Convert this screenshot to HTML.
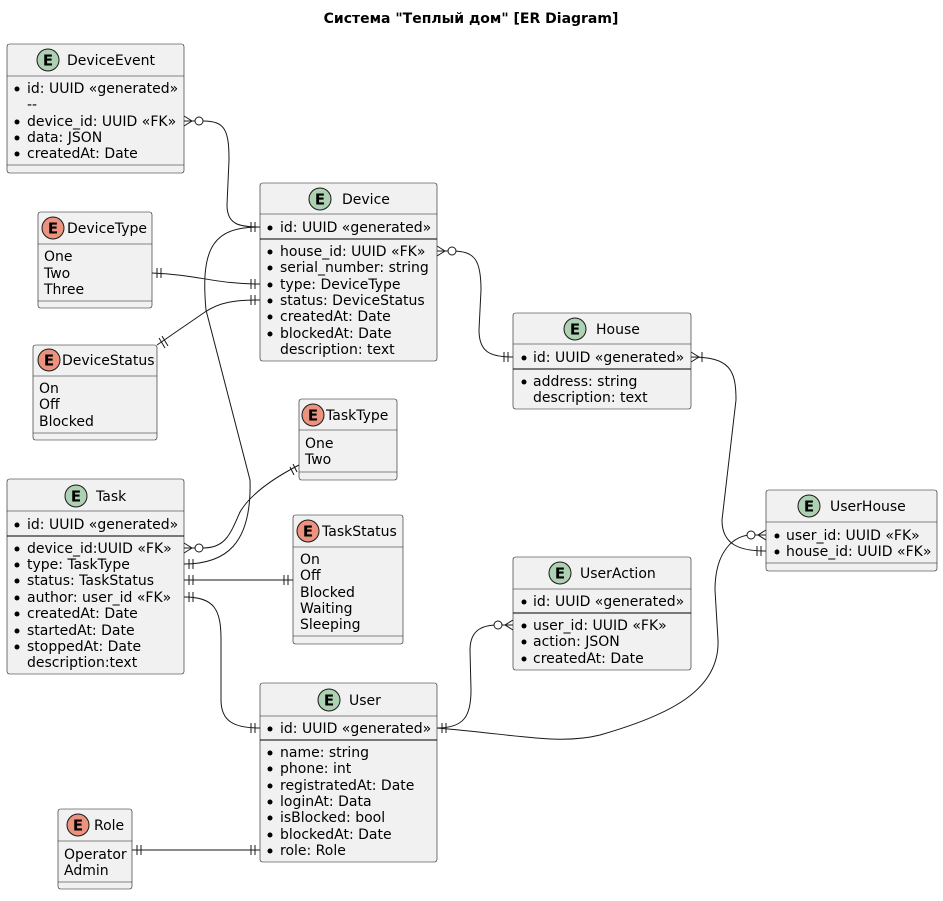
<!DOCTYPE html>
<html><head><meta charset="utf-8"><style>
html,body{margin:0;padding:0;background:#fff}
svg text{font-family:"DejaVu Sans","Liberation Sans",sans-serif;font-size:14px;fill:#000}
.b{fill:#F1F1F1;stroke:#181818;stroke-width:0.6}
.d{stroke:#181818;stroke-width:0.6}
.s{stroke:#000;stroke-width:1.1}
.c{fill:none;stroke:#181818;stroke-width:1}
.ce{fill:#ADD1B2;stroke:#181818;stroke-width:1}
.cn{fill:#EB937F;stroke:#181818;stroke-width:1}
.E{font-weight:bold;font-size:15px !important}
</style></head><body>
<svg width="943" height="896" viewBox="0 0 943 896" xmlns="http://www.w3.org/2000/svg">
<text x="471" y="23" text-anchor="middle" style="font-weight:bold;font-size:14px">Система "Теплый дом" [ER Diagram]</text>

<!-- connectors -->
<g class="c">
<path d="M203,121 C225,121 229,130 229,160 L227,205 C227,225 240,227 260,227"/>
<path d="M152,273 C200,275 215,284 260,284"/>
<path d="M157,345 L205,312 C220,302 235,300 260,300"/>
<path d="M260,227 C215,227 200,245 206,310 L250,480 C252,545 225,564 184,564"/>
<path d="M203,548 C225,548 230,535 240,512 C250,495 270,480 299,465"/>
<path d="M184,580 L293,580"/>
<path d="M184,597 C215,597 221,610 221,640 L221,700 C221,722 235,728 260,728"/>
<path d="M132,850 L260,850"/>
<path d="M452,251 C475,251 481,260 481,290 L479,330 C479,352 490,357 513,357"/>
<path d="M691,357 C730,357 736,370 736,400 L722,520 C722,545 740,551 766,551"/>
<path d="M437,728 C465,728 471,715 471,690 L470,650 C470,628 485,625 498,625"/>
<path d="M437,728 C520,735 560,745 600,735 C670,715 720,690 718,640 L715,590 C715,550 735,535 751,535"/>
</g>
<!-- markers -->
<g class="c">
<!-- crowfoot + o -->
<path d="M184,116 L192,121 L184,126 M184,121 L195,121"/><circle cx="199" cy="121" r="4" fill="#fff"/>
<path d="M437,246 L445,251 L437,256 M437,251 L448,251"/><circle cx="452" cy="251" r="4" fill="#fff"/>
<path d="M184,543 L192,548 L184,553 M184,548 L195,548"/><circle cx="199" cy="548" r="4" fill="#fff"/>
<path d="M513,620 L505,625 L513,630 M513,625 L502,625"/><circle cx="498" cy="625" r="4" fill="#fff"/>
<path d="M766,530 L758,535 L766,540 M766,535 L755,535"/><circle cx="751" cy="535" r="4" fill="#fff"/>
<!-- one or many -->
<path d="M691,352 L699,357 L691,362 M702,352 L702,362"/>
<!-- || -->
<path d="M251,222 V232 M255,222 V232"/>
<path d="M251,279 V289 M255,279 V289"/>
<path d="M251,295 V305 M255,295 V305"/>
<path d="M157,268 V278 M161,268 V278"/>
<path d="M159,338 L165,348 M162,336 L168,346"/>
<path d="M251,723 V733 M255,723 V733"/>
<path d="M251,845 V855 M255,845 V855"/>
<path d="M137,845 V855 M141,845 V855"/>
<path d="M504,352 V362 M508,352 V362"/>
<path d="M757,546 V556 M761,546 V556"/>
<path d="M442,723 V733 M446,723 V733"/>
<path d="M189,559 V569 M193,559 V569"/>
<path d="M189,575 V585 M193,575 V585"/>
<path d="M284,575 V585 M288,575 V585"/>
<path d="M189,592 V602 M193,592 V602"/>
<path d="M290,467 L294,475 M293,464 L297,472"/>
</g>

<!-- DeviceEvent -->
<rect class="b" x="7" y="44" width="177" height="129" rx="2.5"/>
<line class="d" x1="7" y1="76" x2="184" y2="76"/><line class="d" x1="7" y1="165" x2="184" y2="165"/>
<circle class="ce" cx="48" cy="60" r="11"/><text class="E" x="48" y="65.5" text-anchor="middle">E</text>
<text x="67" y="65">DeviceEvent</text>
<g><circle cx="17" cy="89" r="2.5"/><text x="27" y="93">id: UUID «generated»</text>
<text x="27" y="109">--</text>
<circle cx="17" cy="122" r="2.5"/><text x="27" y="126">device_id: UUID «FK»</text>
<circle cx="17" cy="138" r="2.5"/><text x="27" y="142">data: JSON</text>
<circle cx="17" cy="154" r="2.5"/><text x="27" y="158">createdAt: Date</text></g>

<!-- Device -->
<rect class="b" x="260" y="183" width="177" height="178" rx="2.5"/>
<line class="d" x1="260" y1="214" x2="437" y2="214"/><line class="s" x1="260" y1="239" x2="437" y2="239"/>
<circle class="ce" cx="320" cy="199" r="11"/><text class="E" x="320" y="204.5" text-anchor="middle">E</text>
<text x="342" y="204">Device</text>
<circle cx="270" cy="228" r="2.5"/><text x="280" y="232">id: UUID «generated»</text>
<circle cx="270" cy="252" r="2.5"/><text x="280" y="256">house_id: UUID «FK»</text>
<circle cx="270" cy="268" r="2.5"/><text x="280" y="272">serial_number: string</text>
<circle cx="270" cy="285" r="2.5"/><text x="280" y="289">type: DeviceType</text>
<circle cx="270" cy="301" r="2.5"/><text x="280" y="305">status: DeviceStatus</text>
<circle cx="270" cy="317" r="2.5"/><text x="280" y="321">createdAt: Date</text>
<circle cx="270" cy="334" r="2.5"/><text x="280" y="338">blockedAt: Date</text>
<text x="280" y="354">description: text</text>

<!-- DeviceType -->
<rect class="b" x="38" y="212" width="114" height="96" rx="2.5"/>
<line class="d" x1="38" y1="244" x2="152" y2="244"/><line class="d" x1="38" y1="301" x2="152" y2="301"/>
<circle class="cn" cx="53" cy="228" r="11"/><text class="E" x="53" y="233.5" text-anchor="middle">E</text>
<text x="67" y="233">DeviceType</text>
<text x="44" y="261">One</text><text x="44" y="278">Two</text><text x="44" y="294">Three</text>

<!-- DeviceStatus -->
<rect class="b" x="33" y="345" width="124" height="95" rx="2.5"/>
<line class="d" x1="33" y1="376" x2="157" y2="376"/><line class="d" x1="33" y1="433" x2="157" y2="433"/>
<circle class="cn" cx="49" cy="360" r="11"/><text class="E" x="49" y="365.5" text-anchor="middle">E</text>
<text x="62" y="365">DeviceStatus</text>
<text x="39" y="393">On</text><text x="39" y="409">Off</text><text x="39" y="426">Blocked</text>

<!-- TaskType -->
<rect class="b" x="299" y="399" width="98" height="81" rx="2.5"/>
<line class="d" x1="299" y1="430" x2="397" y2="430"/><line class="d" x1="299" y1="472" x2="397" y2="472"/>
<circle class="cn" cx="313" cy="415" r="11"/><text class="E" x="313" y="420.5" text-anchor="middle">E</text>
<text x="326" y="420">TaskType</text>
<text x="305" y="448">One</text><text x="305" y="464">Two</text>

<!-- Task -->
<rect class="b" x="7" y="479" width="177" height="195" rx="2.5"/>
<line class="d" x1="7" y1="511" x2="184" y2="511"/><line class="s" x1="7" y1="536" x2="184" y2="536"/>
<circle class="ce" cx="76" cy="496" r="11"/><text class="E" x="76" y="501.5" text-anchor="middle">E</text>
<text x="96" y="501">Task</text>
<circle cx="17" cy="525" r="2.5"/><text x="27" y="529">id: UUID «generated»</text>
<circle cx="17" cy="549" r="2.5"/><text x="27" y="553">device_id:UUID «FK»</text>
<circle cx="17" cy="565" r="2.5"/><text x="27" y="569">type: TaskType</text>
<circle cx="17" cy="581" r="2.5"/><text x="27" y="585">status: TaskStatus</text>
<circle cx="17" cy="598" r="2.5"/><text x="27" y="602">author: user_id «FK»</text>
<circle cx="17" cy="614" r="2.5"/><text x="27" y="618">createdAt: Date</text>
<circle cx="17" cy="631" r="2.5"/><text x="27" y="635">startedAt: Date</text>
<circle cx="17" cy="647" r="2.5"/><text x="27" y="651">stoppedAt: Date</text>
<text x="27" y="667">description:text</text>

<!-- TaskStatus -->
<rect class="b" x="293" y="515" width="110" height="129" rx="2.5"/>
<line class="d" x1="293" y1="547" x2="403" y2="547"/><line class="d" x1="293" y1="636" x2="403" y2="636"/>
<circle class="cn" cx="308" cy="531" r="11"/><text class="E" x="308" y="536.5" text-anchor="middle">E</text>
<text x="322" y="536">TaskStatus</text>
<text x="300" y="564">On</text><text x="300" y="580">Off</text><text x="300" y="597">Blocked</text><text x="300" y="613">Waiting</text><text x="300" y="629">Sleeping</text>

<!-- User -->
<rect class="b" x="260" y="683" width="177" height="179" rx="2.5"/>
<line class="d" x1="260" y1="716" x2="437" y2="716"/><line class="s" x1="260" y1="740" x2="437" y2="740"/>
<circle class="ce" cx="329" cy="700" r="11"/><text class="E" x="329" y="705.5" text-anchor="middle">E</text>
<text x="349" y="705">User</text>
<circle cx="270" cy="729" r="2.5"/><text x="280" y="733">id: UUID «generated»</text>
<circle cx="270" cy="753" r="2.5"/><text x="280" y="757">name: string</text>
<circle cx="270" cy="769" r="2.5"/><text x="280" y="773">phone: int</text>
<circle cx="270" cy="786" r="2.5"/><text x="280" y="790">registratedAt: Date</text>
<circle cx="270" cy="802" r="2.5"/><text x="280" y="806">loginAt: Data</text>
<circle cx="270" cy="818" r="2.5"/><text x="280" y="822">isBlocked: bool</text>
<circle cx="270" cy="835" r="2.5"/><text x="280" y="839">blockedAt: Date</text>
<circle cx="270" cy="851" r="2.5"/><text x="280" y="855">role: Role</text>

<!-- Role -->
<rect class="b" x="58" y="809" width="74" height="80" rx="2.5"/>
<line class="d" x1="58" y1="841" x2="132" y2="841"/><line class="d" x1="58" y1="882" x2="132" y2="882"/>
<circle class="cn" cx="78" cy="825" r="11"/><text class="E" x="78" y="830.5" text-anchor="middle">E</text>
<text x="94" y="830">Role</text>
<text x="64" y="859">Operator</text><text x="64" y="875">Admin</text>

<!-- House -->
<rect class="b" x="513" y="313" width="178" height="96" rx="2.5"/>
<line class="d" x1="513" y1="344" x2="691" y2="344"/><line class="s" x1="513" y1="369" x2="691" y2="369"/>
<circle class="ce" cx="575" cy="329" r="11"/><text class="E" x="575" y="334.5" text-anchor="middle">E</text>
<text x="596" y="334">House</text>
<circle cx="524" cy="358" r="2.5"/><text x="533" y="362">id: UUID «generated»</text>
<circle cx="524" cy="382" r="2.5"/><text x="533" y="386">address: string</text>
<text x="533" y="402">description: text</text>

<!-- UserAction -->
<rect class="b" x="513" y="557" width="178" height="113" rx="2.5"/>
<line class="d" x1="513" y1="589" x2="691" y2="589"/><line class="s" x1="513" y1="613" x2="691" y2="613"/>
<circle class="ce" cx="560" cy="573" r="11"/><text class="E" x="560" y="578.5" text-anchor="middle">E</text>
<text x="580" y="578">UserAction</text>
<circle cx="524" cy="602" r="2.5"/><text x="533" y="606">id: UUID «generated»</text>
<circle cx="524" cy="626" r="2.5"/><text x="533" y="630">user_id: UUID «FK»</text>
<circle cx="524" cy="642" r="2.5"/><text x="533" y="646">action: JSON</text>
<circle cx="524" cy="659" r="2.5"/><text x="533" y="663">createdAt: Date</text>

<!-- UserHouse -->
<rect class="b" x="766" y="490" width="171" height="81" rx="2.5"/>
<line class="d" x1="766" y1="522" x2="937" y2="522"/><line class="d" x1="766" y1="563" x2="937" y2="563"/>
<circle class="ce" cx="809" cy="506" r="11"/><text class="E" x="809" y="511.5" text-anchor="middle">E</text>
<text x="830" y="511">UserHouse</text>
<circle cx="777" cy="536" r="2.5"/><text x="786" y="540">user_id: UUID «FK»</text>
<circle cx="777" cy="552" r="2.5"/><text x="786" y="556">house_id: UUID «FK»</text>
</svg>
</body></html>
